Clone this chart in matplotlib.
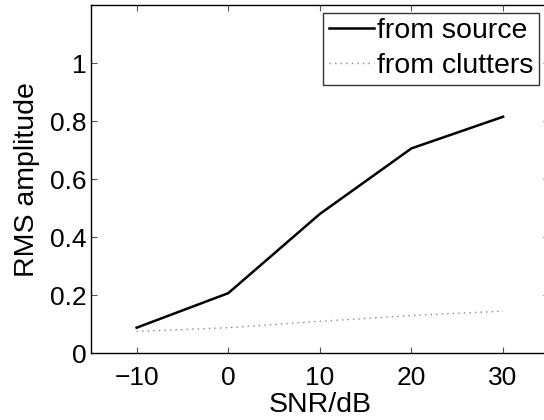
import matplotlib
matplotlib.use('Agg')
import matplotlib.pyplot as plt

# RMS amplitude vs SNR
snr_db = [-10, 0, 10, 20, 30]
rms_source = [0.088, 0.207, 0.48, 0.706, 0.815]
rms_clutters = [0.075, 0.088, 0.11, 0.13, 0.145]

plt.rcParams['font.family'] = ['Liberation Sans', 'DejaVu Sans']

fig = plt.figure(figsize=(5.44, 4.2), dpi=100)
ax = fig.add_axes([0.167, 0.159, 0.842, 0.829])

ax.plot(snr_db, rms_source, color='black', lw=1.8, label='from source')
ax.plot(snr_db, rms_clutters, color='#888888', lw=1.0, linestyle=(0, (1, 3)),
        label='from clutters')

ax.set_xlim(-15, 35)
ax.set_ylim(0, 1.2)
ax.set_xticks(snr_db)
ax.set_yticks([0, 0.2, 0.4, 0.6, 0.8, 1])
ax.set_yticklabels(['0', '0.2', '0.4', '0.6', '0.8', '1'])
ax.set_xticklabels(['\u221210', '0', '10', '20', '30'])
ax.tick_params(direction='in', top=True, right=True, length=4, width=0.8,
               labelsize=19, color='#555555')
ax.tick_params(axis='x', pad=9)
ax.tick_params(axis='y', pad=3)
for s in ax.spines.values():
    s.set_linewidth(1.0)

ax.set_xlabel('SNR/dB', fontsize=20.5, labelpad=2)
ax.set_ylabel('RMS amplitude', fontsize=20.5, labelpad=7)

leg = ax.legend(loc='upper right', bbox_to_anchor=(0.9785, 0.978), fontsize=20.5,
                frameon=True, fancybox=False, handlelength=1.6, handletextpad=0.1,
                borderpad=0.2, labelspacing=0.3, borderaxespad=0)
leg.get_frame().set_edgecolor('black')
leg.get_frame().set_linewidth(1.0)

fig.savefig('out.png', dpi=100)
